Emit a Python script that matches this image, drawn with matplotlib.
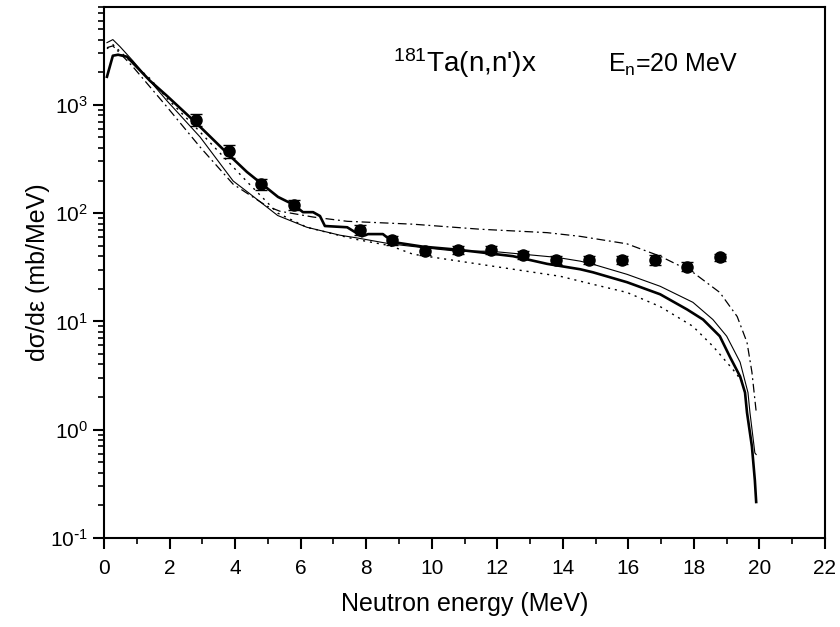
import numpy as np
import matplotlib
matplotlib.use('Agg')
import matplotlib.pyplot as plt
from matplotlib.ticker import FixedLocator, FixedFormatter, LogLocator, MultipleLocator, NullFormatter

# experimental points (energy in MeV, dsigma/de in mb/MeV)
exp_e = [2.8, 3.8, 4.8, 5.8, 7.8, 8.8, 9.8, 10.8, 11.8, 12.8, 13.8, 14.8, 15.8, 16.8, 17.8, 18.8]
exp_v = [726, 375, 186, 119, 70, 56, 45, 46, 46, 41, 37, 37, 37, 37, 32, 39]
exp_err = [95, 50, 22, 13, 7, 5, 4, 4, 4, 3.5, 3, 3, 3, 4, 3, 3]

# calculations
thick_e = [0.09, 0.27, 0.43, 0.70, 1.40, 1.92, 2.84, 3.78, 4.36, 5.31, 5.80, 6.07, 6.38, 6.59, 6.74,
           7.42, 7.87, 8.06, 8.51, 8.82, 9.73, 10.77, 11.47, 12.48, 13.52, 14.53, 14.92, 15.96,
           16.97, 17.79, 18.28, 18.79, 19.10, 19.41, 19.56, 19.62, 19.77, 19.86, 19.90]
thick_v = [1815, 2840, 2900, 2780, 1670, 1210, 667, 352, 240, 141, 119, 102, 102, 94, 76,
           74, 61, 64, 64, 54, 49, 46, 43.5, 40, 34, 30.3, 28.4, 23,
           17.8, 12.9, 10.4, 7.3, 4.7, 3.1, 2.2, 1.44, 0.70, 0.34, 0.215]

thin_e = [0.09, 0.27, 0.49, 0.88, 1.92, 2.93, 3.94, 4.46, 5.30, 6.19, 7.20, 7.72, 8.73, 9.73,
          10.77, 11.78, 12.79, 13.82, 14.53, 14.92, 15.96, 16.97, 17.97, 18.58, 19.00, 19.41,
          19.65, 19.71, 19.86, 19.90]
thin_v = [3750, 4000, 3440, 2550, 1090, 505, 198, 150, 95, 74, 62.5, 59, 52, 48,
          44.5, 44.5, 41.7, 39, 36, 33.7, 27.2, 21.1, 15, 10.4, 7.3, 4.2,
          2.2, 1.44, 0.61, 0.59]

dot_e = [0.09, 0.27, 0.70, 1.40, 1.92, 2.84, 3.78, 4.40, 5.30, 6.19, 7.20, 7.72, 8.73, 9.43,
         11.47, 13.92, 14.92, 15.96, 16.97, 17.97, 18.58, 19.19, 19.47]
dot_v = [3300, 3600, 2700, 1750, 1150, 600, 300, 190, 100, 74, 62, 57, 50, 41.7,
         33.7, 26.1, 22, 18.5, 13.7, 9.0, 5.9, 3.6, 2.8]

dd_e = [0.09, 0.27, 0.88, 1.92, 2.93, 3.94, 4.97, 5.37, 6.38, 7.42, 9.43, 11.47, 13.52,
        14.53, 15.96, 16.97, 17.97, 18.79, 19.32, 19.62, 19.77, 19.86, 19.90]
dd_v = [3370, 3500, 2250, 957, 408, 185, 116, 104, 92, 84, 79, 71, 66,
        61, 52, 40, 28.4, 18.5, 11.1, 6.4, 3.4, 1.9, 1.47]

ytick_vals = [0.1, 1, 10, 100, 1000]
ytick_text = ['$10^{\\text{-}1}$', '$10^{0}$', '$10^{1}$', '$10^{2}$', '$10^{3}$']

plt.rcParams['font.family'] = ['Liberation Sans', 'DejaVu Sans']
plt.rcParams['mathtext.default'] = 'regular'

fig = plt.figure(figsize=(8.4, 6.27), dpi=100)
ax = fig.add_axes([104/840, 89/627, 721/840, 531/627])

ax.plot(thick_e, thick_v, color='black', lw=1.9)
ax.plot(thin_e, thin_v, color='black', lw=0.8)
ax.plot(dot_e, dot_v, color='black', lw=1.0, linestyle=(0, (1.5, 3.5)))
ax.plot(dd_e, dd_v, color='black', lw=0.9, linestyle=(0, (7, 3, 1.5, 3)))
ax.errorbar(exp_e, exp_v, yerr=exp_err, fmt='o', color='black', ms=8,
            capsize=4, elinewidth=1, capthick=1)

ax.set_yscale('log')
ax.set_xlim(0, 22)
ax.set_ylim(0.1, 8000)

ax.xaxis.set_major_locator(MultipleLocator(2))
ax.xaxis.set_minor_locator(MultipleLocator(1))
ax.yaxis.set_major_locator(FixedLocator(ytick_vals))
ax.yaxis.set_major_formatter(FixedFormatter(ytick_text))
ax.yaxis.set_minor_locator(LogLocator(base=10, subs=np.arange(2, 10)))
ax.yaxis.set_minor_formatter(NullFormatter())

for s in ax.spines.values():
    s.set_linewidth(1.5)
ax.tick_params(which='major', direction='out', length=8, width=1.5, labelsize=15, top=False, right=False)
ax.tick_params(which='minor', direction='out', length=4.5, width=1.2, top=False, right=False)
ax.tick_params(axis='x', which='major', pad=7)

ax.set_xlabel('Neutron energy (MeV)', fontsize=18, labelpad=10)
ax.set_ylabel('dσ/dε (mb/MeV)', fontsize=18, labelpad=0)

ax.text(8.82, 2020, '$^{181}$Ta(n,n\')x', fontsize=20, va='baseline', ha='left')
ax.text(15.38, 2020, 'E$_n$=20 MeV', fontsize=18, va='baseline', ha='left')

fig.savefig('out.png', dpi=100)
